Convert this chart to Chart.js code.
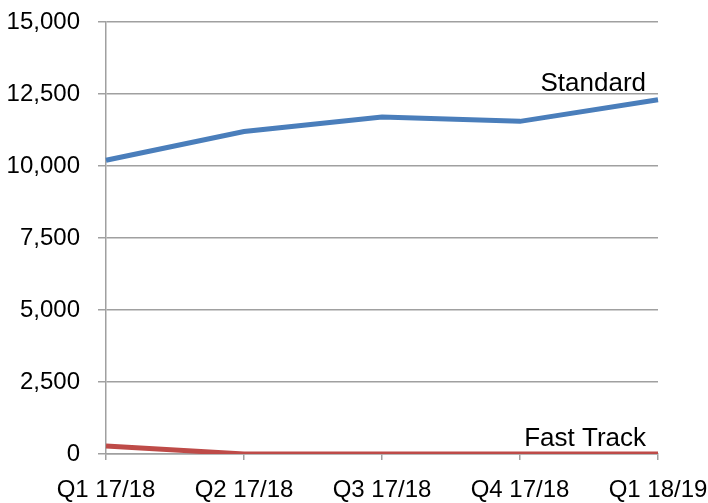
<!DOCTYPE html>
<html>
<head>
<meta charset="utf-8">
<script src="https://cdn.jsdelivr.net/npm/chart.js@4.4.0/dist/chart.umd.min.js"></script>
<style>
  html, body { margin: 0; padding: 0; background: #fff; }
  #wrap { width: 708px; height: 503px; }
</style>
</head>
<body>
<div id="wrap"><canvas id="chart" width="708" height="503"></canvas></div>
<script>
const quarters = ["Q1 17/18", "Q2 17/18", "Q3 17/18", "Q4 17/18", "Q1 18/19"];
const standard = [10200, 11200, 11700, 11550, 12300];
const fastTrack = [280, 0, 0, 0, 0];
const yTicks = [0, 2500, 5000, 7500, 10000, 12500, 15000];

const FONT = "'Liberation Sans', Arial, sans-serif";
const GRID = "#a0a0a0";

// line-end labels ("Standard", "Fast Track")
const endLabels = {
  id: "endLabels",
  afterDatasetsDraw(chart) {
    const ctx = chart.ctx;
    ctx.save();
    ctx.font = "26px " + FONT;
    ctx.fillStyle = "#000";
    ctx.textAlign = "right";
    ctx.textBaseline = "alphabetic";
    chart.data.datasets.forEach((ds, i) => {
      const meta = chart.getDatasetMeta(i);
      const last = meta.data[meta.data.length - 1];
      ctx.fillText(ds.label, last.x - 12, last.y - 8.5);
    });
    ctx.restore();
  }
};

new Chart(document.getElementById("chart"), {
  type: "line",
  data: {
    labels: quarters,
    datasets: [
      { label: "Standard", data: standard, borderColor: "#4a7ebb", borderWidth: 5, pointRadius: 0, tension: 0 },
      { label: "Fast Track", data: fastTrack, borderColor: "#be4b48", borderWidth: 5, pointRadius: 0, tension: 0 }
    ]
  },
  options: {
    responsive: false,
    animation: false,
    layout: { padding: { top: 22, right: 50, left: 0, bottom: 0 } },
    plugins: { legend: { display: false }, tooltip: { enabled: false } },
    scales: {
      x: {
        offset: false,
        afterFit(scale) {
          scale.height = 49;
          scale.paddingLeft = 0;
          scale.paddingRight = 0;
        },
        grid: { display: true, drawOnChartArea: false, drawTicks: true, tickLength: 6, color: GRID, lineWidth: 1.5 },
        border: { display: true, color: GRID, width: 1.5 },
        ticks: { color: "#000", font: { family: FONT, size: 24 }, padding: 16, maxRotation: 0, autoSkip: false }
      },
      y: {
        min: 0,
        max: 15000,
        afterBuildTicks(scale) { scale.ticks = yTicks.map(v => ({ value: v })); },
        afterFit(scale) {
          scale.width = 106;
          scale.paddingTop = 0;
          scale.paddingBottom = 0;
        },
        grid: { color: GRID, lineWidth: 1.5, tickLength: 8 },
        border: { display: true, color: GRID, width: 1.5 },
        ticks: {
          color: "#000",
          font: { family: FONT, size: 24 },
          padding: 18,
          callback: v => v.toLocaleString("en-US")
        }
      }
    }
  },
  plugins: [endLabels]
});
</script>
</body>
</html>
